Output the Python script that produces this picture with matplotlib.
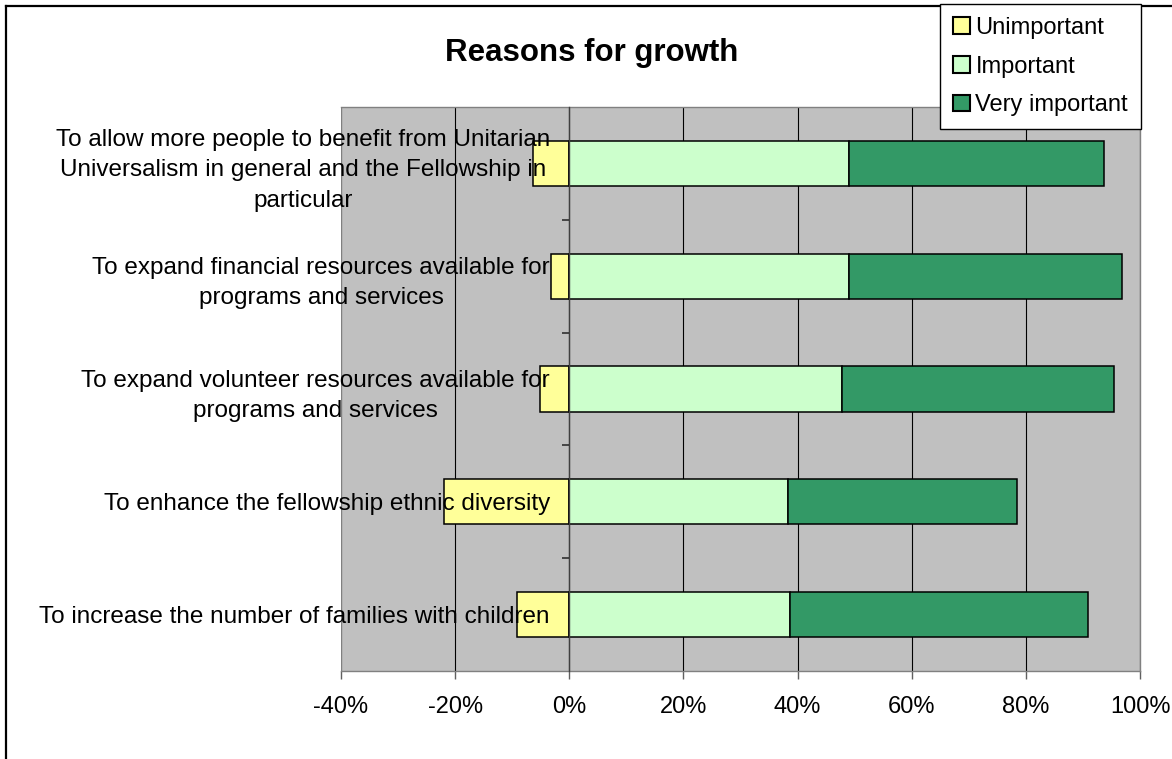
import matplotlib
matplotlib.use("Agg")
import matplotlib.pyplot as plt
from matplotlib.lines import Line2D
from matplotlib.ticker import PercentFormatter, MultipleLocator, FixedLocator
import numpy as np

plt.rcParams['font.family'] = ['Liberation Sans', 'DejaVu Sans']
plt.rcParams['axes.unicode_minus'] = False

# categories, top to bottom
reasons = [
    "To allow more people to benefit from Unitarian\nUniversalism in general and the Fellowship in\nparticular",
    "To expand financial resources available for\nprograms and services",
    "To expand volunteer resources available for\nprograms and services",
    "To enhance the fellowship ethnic diversity",
    "To increase the number of families with children",
]
unimportant = [-6.3, -3.2, -5.1, -21.9, -9.1]
important = [49.0, 49.0, 47.7, 38.3, 38.7]
very_important = [44.7, 47.8, 47.7, 40.2, 52.2]

c_unimp = '#FFFF99'
c_imp = '#CCFFCC'
c_very = '#339966'

fig = plt.figure(figsize=(11.72, 7.59), dpi=100)
ax = fig.add_axes([341 / 1172, 1 - 671 / 759, (1140 - 341) / 1172, (671 - 107) / 759])
ax.set_facecolor('#C0C0C0')

y = np.arange(len(reasons))
h = 0.4
ax.barh(y, unimportant, height=h, color=c_unimp, edgecolor='black', linewidth=1.1, label='Unimportant', zorder=3)
ax.barh(y, important, height=h, color=c_imp, edgecolor='black', linewidth=1.1, label='Important', zorder=3)
ax.barh(y, very_important, left=important, height=h, color=c_very, edgecolor='black',
        linewidth=1.1, label='Very important', zorder=3)

ax.set_xlim(-40, 100)
ax.set_ylim(len(reasons) - 0.5, -0.5)
ax.xaxis.set_major_locator(MultipleLocator(20))
ax.xaxis.set_major_formatter(PercentFormatter(decimals=0))
ax.grid(axis='x', color='black', linewidth=0.8, zorder=1)
ax.set_axisbelow(True)
ax.yaxis.set_zorder(5)  # category labels drawn over the bars

for s in ['top', 'right', 'bottom']:
    ax.spines[s].set_color('#808080')
    ax.spines[s].set_linewidth(1.0)
ax.spines['left'].set_position(('data', 0))
ax.spines['left'].set_color('#404040')
ax.spines['left'].set_linewidth(1.0)
ax.spines['left'].set_zorder(4)
# outer left border of plot area
ax.axvline(-40, color='#808080', linewidth=1.5, zorder=2)

ax.set_yticks(y)
ax.set_yticklabels(reasons, fontsize=17.5, ha='right', multialignment='center', linespacing=1.5)
ax.yaxis.set_minor_locator(FixedLocator(np.arange(0.5, len(reasons) - 0.5, 1)))
ax.tick_params(axis='y', which='major', length=0, pad=14)
ax.tick_params(axis='y', which='minor', length=5, width=1.2, color='#303030')
ax.tick_params(axis='x', which='major', length=6, width=1, color='#606060', labelsize=17, pad=12)

fig.text(0.505, 1 - 53 / 759, 'Reasons for growth', fontsize=22.5, fontweight='bold',
         ha='center', va='center')

leg = fig.legend(loc='upper left', bbox_to_anchor=(940 / 1172, 1 - 4 / 759), fontsize=17,
                 handlelength=0.7, handleheight=0.7, handletextpad=0.25, labelspacing=0.7,
                 borderpad=0.55, borderaxespad=0, fancybox=False, frameon=True, framealpha=1)
leg.get_frame().set_edgecolor('black')
leg.get_frame().set_linewidth(1.0)
for p in leg.get_patches():
    p.set_linewidth(1.5)

# chart border (left and top visible)
fig.add_artist(Line2D([6 / 1172, 6 / 1172], [0, 1 - 6 / 759], color='black', linewidth=1.6,
                      transform=fig.transFigure))
fig.add_artist(Line2D([6 / 1172, 1], [1 - 6 / 759, 1 - 6 / 759], color='black', linewidth=1.6,
                      transform=fig.transFigure))

fig.savefig('out.png', dpi=100)
